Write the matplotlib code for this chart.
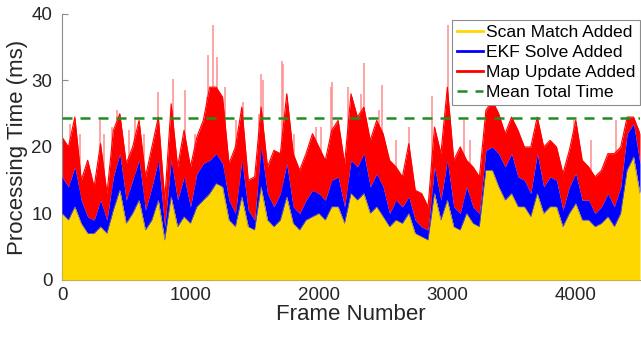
import numpy as np
import matplotlib
matplotlib.use("Agg")
import matplotlib.pyplot as plt

plt.rcParams['font.family'] = ['Liberation Sans', 'DejaVu Sans']

# ---- data (cumulative levels, ms), one value per 50 frames ----
frames = list(range(0, 4501, 50))

scan_match_added = [
    10, 9, 11, 8.5, 7, 7, 8, 7, 10.5, 13.5, 8.5, 10, 12, 7.5, 9, 12, 6, 12.5, 8, 9.5, 8.5, 11, 12,
    13, 14.5, 14, 9, 8, 12.5, 8, 7.5, 14, 9, 8, 9, 12.5, 8.5, 7.5, 9, 9.5, 10, 9, 11, 11, 8.5, 13,
    12, 13, 10, 11, 9.5, 8, 9, 8.5, 10, 7, 6.5, 6, 13, 9, 12, 8, 7.5, 10, 8.5, 8, 16.5, 16.5,
    14, 12, 13, 11, 11, 9.5, 13, 10, 11, 11, 8, 10, 11.5, 9, 9, 8, 8.5, 9.5, 8, 10, 16.5, 18.5, 13,
]
ekf_solve_added = [
    15.5, 14, 17, 12, 9.5, 9, 12, 9, 15.5, 19, 12, 15, 18, 10.5, 14, 18, 8, 18, 12, 15.5, 11, 16, 17.5,
    18, 19, 17.5, 12, 10, 18, 10.5, 9, 20, 13, 11, 13, 17.5, 11, 10, 12, 13.5, 13, 12, 15, 15.5, 11, 18,
    17, 19, 14, 16, 14, 10, 12, 11, 12.5, 9, 8, 7.5, 17, 12, 18, 11, 10, 14, 11, 10, 19.5, 20,
    19, 17, 19, 15.5, 15, 13, 19, 14, 15.5, 15, 10.5, 14, 16, 12, 12, 10, 11, 13, 11, 14, 22, 23.5, 17.5,
]
map_update_added = [
    21.5, 20, 24.5, 15, 18, 14, 20.5, 13, 22.5, 25, 17.5, 20, 24, 15.5, 20, 24.5, 12, 26.5, 17, 22.5, 17, 21.5, 24,
    29, 29, 27.5, 17.5, 20, 26, 15, 15.5, 26, 17, 19.5, 19, 28, 19, 16.5, 19, 22, 20, 18, 22.5, 24, 17.5, 28,
    24.5, 26, 21, 24, 22, 18, 17, 15.5, 20.5, 13.5, 13, 11, 23, 19, 29, 18, 20, 18, 17, 15.5, 25.5, 27,
    25, 22, 24.5, 22.5, 20, 20, 24.5, 20, 21, 20, 16, 19.5, 24, 18, 17, 15.5, 16.5, 19, 19, 20, 24.5, 24.5, 22,
]

# isolated single-frame peaks of the total time (frame, ms)
spike_frames = [60, 140, 296, 330, 387, 430, 520, 570, 640, 750, 862, 958, 1035, 1127, 1140,
                1178, 1208, 1272, 1355, 1375, 1410, 1530, 1552, 1566, 1710, 1722, 1805,
                1975, 2015, 2092, 2105, 2226, 2330, 2355, 2465, 2490, 2600, 2700, 2880,
                3007, 3126, 3180, 3985, 4120, 4310]
spike_values = [23.5, 22, 24, 22, 23, 25.5, 22.5, 24.5, 22, 28.3, 30.3, 28.6, 22, 27.5, 33.8,
                38.3, 33.6, 29, 24, 23, 26.8, 25, 31, 30, 33, 32.5, 22,
                23, 23, 29, 29.8, 29, 28, 32.6, 25.5, 29.3, 21, 23, 27.6,
                38.3, 24, 21, 24, 21, 24]

mean_total_time = 24.3

labels = ["Scan Match Added", "EKF Solve Added", "Map Update Added", "Mean Total Time"]

# ---- figure ----
fig = plt.figure(figsize=(6.41, 3.37), dpi=100)
ax = fig.add_axes([62 / 641, 57 / 337, 578 / 641, 266 / 337])

x = np.array(frames)
y1 = np.array(scan_match_added)
y2 = np.array(ekf_solve_added)
y3 = np.array(map_update_added)

yellow = (1.0, 0.843, 0.0)
blue = (0.0, 0.0, 1.0)
red = (1.0, 0.0, 0.0)
green = (0.13, 0.55, 0.13)

ax.vlines(spike_frames, 0, spike_values, colors=(1.0, 0.55, 0.55), linewidth=1.1, zorder=1)
ax.fill_between(x, y2, y3, color=red, linewidth=0, zorder=2)
ax.plot(x, y3, color=red, linewidth=0.8, zorder=2)
ax.fill_between(x, y1, y2, color=blue, linewidth=0, zorder=3)
ax.fill_between(x, 0, y1, color=yellow, linewidth=0, zorder=4)
ax.plot(x, y1, color=(0.5, 0.45, 0.4), linewidth=0.5, zorder=4)

h_scan, = ax.plot([], [], color=yellow, linewidth=2, label=labels[0])
h_ekf, = ax.plot([], [], color=blue, linewidth=2, label=labels[1])
h_map, = ax.plot([], [], color=red, linewidth=2, label=labels[2])
h_mean = ax.axhline(mean_total_time, color=green, linestyle=(0, (4, 3.2)), linewidth=1.8,
                    zorder=5, label=labels[3])

ax.set_xlim(0, 4500)
ax.set_ylim(0, 40)
ax.set_xticks([0, 1000, 2000, 3000, 4000])
ax.set_yticks([0, 10, 20, 30, 40])

for s in ['top', 'right']:
    ax.spines[s].set_visible(False)
for s in ['left', 'bottom']:
    ax.spines[s].set_color('#8c8c8c')
    ax.spines[s].set_linewidth(0.8)
ax.tick_params(direction='in', length=4, width=0.8, color='#8c8c8c',
               labelsize=13.5, labelcolor='#262626')
ax.tick_params(axis='x', pad=5)
ax.tick_params(axis='y', pad=7)

ax.set_xlabel("Frame Number", fontsize=16, color='#262626', labelpad=0)
ax.set_ylabel("Processing Time (ms)", fontsize=16, color='#262626', labelpad=2)

leg = ax.legend(handles=[h_scan, h_ekf, h_map, h_mean], loc='upper right',
                bbox_to_anchor=(1.0, 0.977), borderaxespad=0, fontsize=12.6,
                frameon=True, fancybox=False, framealpha=1, edgecolor='#8c8c8c',
                handlelength=1.5, handletextpad=0.2, labelspacing=0.28,
                borderpad=0.25)
leg.get_frame().set_linewidth(0.8)
leg.set_zorder(10)

fig.savefig("out.png", dpi=100)
